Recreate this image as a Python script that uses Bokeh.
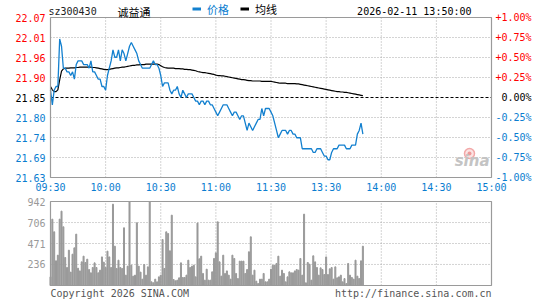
from bokeh.plotting import figure
from bokeh.models import Range1d, ColumnDataSource, Legend, LegendItem
from bokeh.core.properties import value
from bokeh.embed import file_html
from bokeh.resources import INLINE

# ---------------- data ----------------
stock_code = "sz300430"
stock_name = "诚益通"
stamp = "2026-02-11 13:50:00"
prev_close = 21.85

price = [
    21.87, 21.83, 21.87, 21.88, 21.88, 22.01, 21.99, 21.93, 21.93, 21.92,
    21.92, 21.91, 21.92, 21.90, 21.94, 21.95, 21.95, 21.95, 21.94, 21.94,
    21.94, 21.93, 21.95, 21.92, 21.92, 21.91, 21.90, 21.90, 21.88, 21.88,
    21.87, 21.91, 21.93, 21.95, 21.98, 21.96, 21.96, 21.98, 21.95, 21.98,
    21.97, 21.95, 21.97, 21.99, 22.00, 21.99, 21.98, 21.97, 21.95, 21.94,
    21.93, 21.93, 21.93, 21.93, 21.93, 21.94, 21.95, 21.94, 21.94, 21.93,
    21.91, 21.88, 21.89, 21.89, 21.89, 21.87, 21.86, 21.87, 21.87, 21.88,
    21.86, 21.85, 21.87, 21.86, 21.85, 21.86, 21.86, 21.86, 21.85, 21.84,
    21.84, 21.83, 21.84, 21.84, 21.83, 21.84, 21.84, 21.83, 21.83, 21.82,
    21.81, 21.80, 21.81, 21.82, 21.83, 21.83, 21.83, 21.82, 21.81, 21.80,
    21.81, 21.81, 21.80, 21.79, 21.80, 21.80, 21.78, 21.76, 21.78, 21.77,
    21.76, 21.77, 21.78, 21.79, 21.79, 21.82, 21.80, 21.82, 21.82, 21.82,
    21.81, 21.80, 21.78, 21.76, 21.74, 21.75, 21.76, 21.76, 21.76, 21.75,
    21.76, 21.76, 21.75, 21.75, 21.74, 21.74, 21.74, 21.71, 21.71, 21.71,
    21.71, 21.71, 21.71, 21.70, 21.70, 21.71, 21.71, 21.71, 21.70, 21.69,
    21.69, 21.68, 21.68, 21.70, 21.71, 21.71, 21.71, 21.72, 21.72, 21.72,
    21.72, 21.71, 21.71, 21.71, 21.72, 21.72, 21.72, 21.75, 21.76, 21.78,
    21.75,
]

avg_price = [
    21.880, 21.871, 21.866, 21.866, 21.871, 21.898, 21.922, 21.928, 21.930, 21.930,
    21.930, 21.931, 21.931, 21.931, 21.932, 21.932, 21.933, 21.933, 21.933, 21.933,
    21.933, 21.933, 21.933, 21.932, 21.932, 21.931, 21.930, 21.929, 21.928, 21.927,
    21.926, 21.926, 21.927, 21.928, 21.929, 21.930, 21.931, 21.931, 21.932, 21.933,
    21.933, 21.934, 21.935, 21.936, 21.937, 21.938, 21.938, 21.939, 21.939, 21.940,
    21.940, 21.940, 21.941, 21.941, 21.941, 21.941, 21.941, 21.941, 21.941, 21.940,
    21.937, 21.934, 21.932, 21.931, 21.930, 21.930, 21.930, 21.930, 21.929, 21.929,
    21.929, 21.928, 21.928, 21.927, 21.927, 21.926, 21.926, 21.925, 21.924, 21.923,
    21.921, 21.920, 21.919, 21.918, 21.918, 21.917, 21.916, 21.915, 21.914, 21.913,
    21.911, 21.910, 21.910, 21.909, 21.909, 21.908, 21.907, 21.906, 21.905, 21.904,
    21.903, 21.902, 21.901, 21.900, 21.899, 21.899, 21.898, 21.897, 21.896, 21.896,
    21.895, 21.895, 21.895, 21.895, 21.895, 21.894, 21.894, 21.894, 21.894, 21.894,
    21.894, 21.893, 21.892, 21.891, 21.890, 21.889, 21.889, 21.889, 21.889, 21.888,
    21.888, 21.888, 21.888, 21.888, 21.887, 21.887, 21.886, 21.885, 21.884, 21.883,
    21.882, 21.881, 21.880, 21.879, 21.878, 21.877, 21.876, 21.875, 21.874, 21.873,
    21.872, 21.871, 21.870, 21.869, 21.868, 21.867, 21.866, 21.866, 21.865, 21.865,
    21.864, 21.864, 21.863, 21.862, 21.861, 21.860, 21.859, 21.858, 21.857, 21.856,
    21.855,
]

volume = [
    97, 744, 602, 277, 340, 744, 834, 658, 314, 202,
    396, 150, 351, 422, 576, 194, 164, 265, 329, 258,
    295, 179, 142, 202, 254, 202, 142, 172, 321, 262,
    202, 385, 321, 202, 912, 441, 191, 284, 202, 191,
    647, 116, 217, 1100, 228, 105, 116, 703, 217, 150,
    71, 235, 116, 209, 1050, 41, 30, 71, 41, 97,
    116, 516, 191, 602, 583, 389, 789, 67, 52, 60,
    86, 254, 90, 90, 116, 284, 202, 217, 228, 97,
    700, 299,
    329, 135, 60, 183, 60, 60, 153, 303, 366, 714,
    265, 105, 340, 135, 164, 116, 71, 340, 303, 135,
    78, 273, 273, 273, 135, 179, 378, 546, 116, 172,
    49, 22, 71, 71, 135, 41, 41, 71, 183,
    228, 228, 247, 329, 105, 172, 135, 41, 97, 153,
    142, 142, 164, 179, 172, 303, 116,
    800,
    30, 258, 239, 60, 333, 265, 202, 116, 198, 179,
    123, 321, 123, 187, 202, 71, 209, 86, 97, 116,
    41, 78, 22, 247, 116, 90, 71, 284, 105, 78,
    277, 441,
]

time_ticks = [0, 30, 60, 90, 120, 150, 180, 210, 240]
time_labels = ["09:30", "10:00", "10:30", "11:00", "11:30", "13:30", "14:00", "14:30", "15:00"]
pct_levels = [1.0, 0.75, 0.5, 0.25, 0.0, -0.25, -0.5, -0.75, -1.0]
price_labels = ["22.07", "22.01", "21.96", "21.90", "21.85", "21.80", "21.74", "21.69", "21.63"]
pct_labels = ["+1.00%", "+0.75%", "+0.50%", "+0.25%", "0.00%", "-0.25%", "-0.50%", "-0.75%", "-1.00%"]
vol_ticks = [236, 471, 706, 942]
vol_max = 942
legend_labels = ["价格", "均线"]
copyright_text = "Copyright 2026 SINA.COM"
url_text = "http://finance.sina.com.cn"
watermark = "sina"

# ---------------- layout (pixels) ----------------
W, H = 545, 300
FL, FR = 50, 491          # plot box left / right (px)
PT, PB = 17, 177          # price box top / bottom (px)
VT, VB = 201, 285         # volume box top / bottom (px)

# ---------------- style ----------------
BLUE = "#1380cf"
LBLUE = "#0a7dd0"
RED = "#ff0000"
BOX = "#9a9a9a"
GRID = "#a8a8a8"
MONO = "DejaVu Sans Mono"
CJK = "Noto Sans CJK SC"

minutes = list(range(len(price)))
level_prices = [prev_close * (1 + q / 100.0) for q in pct_levels]
lo, hi = min(level_prices), max(level_prices)
level_colors = [RED if q > 0 else ("black" if q == 0 else LBLUE) for q in pct_levels]

t0, t1 = time_ticks[0], time_ticks[-1]
mpp = (t1 - t0) / (FR - FL)               # minutes per pixel
kp = (hi - lo) / (PB - PT)                # price per pixel
kv = vol_max / (VB - VT)                  # volume per pixel

p = figure(width=W, height=H,
           x_range=Range1d(t0 - FL * mpp, t1 + (W - FR) * mpp),
           y_range=Range1d(lo - (H - PB) * kp, hi + PT * kp),
           output_backend="svg", toolbar_location=None,
           x_axis_location=None, y_axis_location=None, min_border=0,
           outline_line_color=None, background_fill_color="white", border_fill_color="white")
p.grid.visible = False
p.extra_y_ranges = {"vol": Range1d(-(H - VB) * kv, vol_max + VT * kv)}

# ---- price panel grid ----
inner_t = time_ticks[1:-1]
p.segment(x0=inner_t, x1=inner_t, y0=[lo] * len(inner_t), y1=[hi] * len(inner_t),
          line_color=GRID, line_dash="1 2", line_width=1)
inner_lv = [y for y, q in zip(level_prices, pct_levels) if q not in (0.0, 1.0, -1.0)]
p.segment(x0=[t0] * len(inner_lv), x1=[t1] * len(inner_lv), y0=inner_lv, y1=inner_lv,
          line_color=GRID, line_dash="1 2", line_width=1)
p.segment(x0=[t0], x1=[t1], y0=[prev_close], y1=[prev_close],
          line_color="black", line_dash="3 2", line_width=1)

# ---- volume panel grid ----
p.segment(x0=inner_t, x1=inner_t, y0=[0] * len(inner_t), y1=[vol_max] * len(inner_t),
          line_color=GRID, line_dash="1 2", line_width=1, y_range_name="vol")
p.segment(x0=[t0] * 3, x1=[t1] * 3, y0=vol_ticks[:-1], y1=vol_ticks[:-1],
          line_color=GRID, line_dash="1 2", line_width=1, y_range_name="vol")

# ---- watermark (behind data) ----
p.scatter(x=[t1 - 22 * mpp], y=[lo + 24 * kp], marker="circle", size=10,
          fill_color="#fbe3e3", line_color="#f2a8a8", line_width=1.5)
p.scatter(x=[t1 - 22 * mpp], y=[lo + 24 * kp], marker="circle", size=4,
          fill_color="#ee9a9a", line_color=None)
p.text(x=[t1], y=[lo + 8 * kp], text=[watermark], x_offset=-2, text_align="right",
       text_baseline="bottom", text_color="#c4c4c4", text_font=value("DejaVu Sans"),
       text_font_style="bold italic", text_font_size="15px")

# ---- data ----
p.vbar(x=minutes, top=[min(v, vol_max) for v in volume], width=0.55,
       color="#999999", y_range_name="vol")
p.line(minutes, avg_price, line_color="black", line_width=1.2)
p.line(minutes, price, line_color=BLUE, line_width=1.3)

# ---- boxes ----
p.quad(left=[t0], right=[t1], bottom=[lo], top=[hi], fill_color=None,
       line_color=BOX, line_width=1.2)
p.quad(left=[t0], right=[t1], bottom=[0], top=[vol_max], fill_color=None,
       line_color=BOX, line_width=1.2, y_range_name="vol")

# ---- tick labels ----
lsrc = ColumnDataSource(dict(y=level_prices, plabel=price_labels, qlabel=pct_labels,
                             color=level_colors, xl=[t0] * len(pct_levels), xr=[t1] * len(pct_levels)))
p.text(x="xl", y="y", text="plabel", source=lsrc, x_offset=-5, text_align="right",
       text_baseline="middle", text_color="color", text_font=value(MONO), text_font_size="10px")
p.text(x="xr", y="y", text="qlabel", source=lsrc, x_offset=40, text_align="right",
       text_baseline="middle", text_color="color", text_font=value(MONO), text_font_size="10px")
p.text(x=time_ticks, y=[lo - 10 * kp] * len(time_ticks), text=time_labels, text_align="center",
       text_baseline="middle", text_color=LBLUE, text_font=value(MONO), text_font_size="10px")
p.text(x=[t0] * len(vol_ticks), y=vol_ticks, text=[str(v) for v in vol_ticks], x_offset=-5,
       text_align="right", text_baseline="middle", text_color="#999999",
       text_font=value(MONO), text_font_size="10px", y_range_name="vol")

# ---- header ----
hy = hi + 6 * kp
p.text(x=[t0], y=[hy], text=[stock_code], x_offset=-2, text_align="left", text_baseline="middle",
       text_color="#222222", text_font=value(MONO), text_font_size="10px")
p.text(x=[t0], y=[hy], text=[stock_name], x_offset=67, text_align="left", text_baseline="middle",
       text_color="black", text_font=value(CJK), text_font_size="11px")
p.text(x=[t1], y=[hy], text=[stamp], x_offset=-20, text_align="right", text_baseline="middle",
       text_color="black", text_font=value(MONO), text_font_size="10px")

# legend keys (zero-length lines: visible only as legend glyphs)
r_leg1 = p.line([t0, t0], [lo, lo], line_color=BLUE, line_width=3)
r_leg2 = p.line([t0, t0], [lo, lo], line_color="black", line_width=3)
for rend, lab, col, lx in ((r_leg1, legend_labels[0], LBLUE, 192),
                           (r_leg2, legend_labels[1], "black", 240)):
    p.add_layout(Legend(items=[LegendItem(label=lab, renderers=[rend])],
                        location=(lx, H - 16.5), orientation="horizontal",
                        label_text_font=CJK, label_text_font_size="11px", label_text_color=col,
                        label_standoff=6, glyph_width=9, glyph_height=11, label_height=11,
                        spacing=0, padding=0, margin=0, border_line_color=None,
                        background_fill_alpha=0))

# ---- footer ----
p.text(x=[t0], y=[-8 * kv], text=[copyright_text], text_align="left", text_baseline="middle",
       text_color="#555555", text_font=value(MONO), text_font_size="10px", y_range_name="vol")
p.text(x=[t1], y=[-8 * kv], text=[url_text], text_align="right", text_baseline="middle",
       text_color="#555555", text_font=value(MONO), text_font_size="10px", y_range_name="vol")

open("out.html", "w").write(file_html(p, INLINE))
